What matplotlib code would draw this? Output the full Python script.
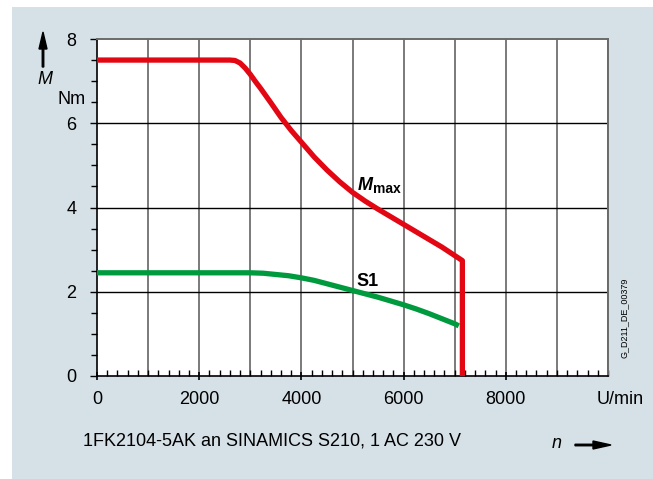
import matplotlib
matplotlib.use("Agg")
import matplotlib.pyplot as plt
from matplotlib.patches import Rectangle, FancyArrow
from matplotlib.ticker import MultipleLocator

plt.rcParams['font.family'] = ['Liberation Sans', 'DejaVu Sans']

# Data (speed in U/min, torque in Nm)
mmax_speed = [0, 2600, 2700, 2800, 2900, 3000, 3100, 3200, 3400, 3600, 3800, 4000, 4250, 4500,
              4750, 5000, 5250, 5500, 5750, 6000, 6250, 6500, 6750, 7000, 7150, 7150]
mmax_torque = [7.5, 7.5, 7.49, 7.43, 7.31, 7.16, 6.99, 6.83, 6.49, 6.14, 5.83, 5.55, 5.2, 4.89,
               4.61, 4.36, 4.15, 3.96, 3.78, 3.6, 3.42, 3.24, 3.06, 2.86, 2.74, 0.0]
s1_speed = [0, 3000, 3250, 3500, 3750, 4000, 4250, 4500, 4750, 5000, 5250, 5500, 5750, 6000,
            6250, 6500, 6750, 7000, 7080]
s1_torque = [2.45, 2.45, 2.44, 2.41, 2.38, 2.33, 2.27, 2.19, 2.11, 2.03, 1.95, 1.87, 1.78, 1.69,
             1.59, 1.48, 1.36, 1.24, 1.19]
x_ticks = [0, 2000, 4000, 6000, 8000]
y_ticks = [0, 2, 4, 6, 8]

W, H = 653, 479
fig = plt.figure(figsize=(W / 100, H / 100), dpi=100)
fig.patch.set_facecolor('white')
bg = '#d5e0e7'
fig.patches.append(Rectangle((12 / W, 0), 1 - 12 / W, (H - 7) / H, transform=fig.transFigure,
                             facecolor=bg, edgecolor='none', zorder=-10))

ax = fig.add_axes([97 / W, (H - 376) / H, (608 - 97) / W, (376 - 39) / H])
ax.set_facecolor('white')
ax.set_xlim(0, 10000)
ax.set_ylim(0, 8)

# grid
for xv in range(1000, 10001, 1000):
    ax.axvline(xv, color='#7a7a7a', lw=1.4, zorder=1)
for yv in [2, 4, 6]:
    ax.axhline(yv, color='black', lw=1.0, zorder=1)

ax.plot(mmax_speed, mmax_torque, color='#e30613', lw=3.8, solid_joinstyle='round',
        solid_capstyle='butt', zorder=3)
ax.plot(s1_speed, s1_torque, color='#009a3e', lw=3.8, solid_joinstyle='round',
        solid_capstyle='butt', zorder=3)

for s in ['top', 'right']:
    ax.spines[s].set_color('#6a6a6a')
    ax.spines[s].set_linewidth(1.4)
for s in ['left', 'bottom']:
    ax.spines[s].set_color('black')
    ax.spines[s].set_linewidth(1.2)

ax.set_xticks(x_ticks)
ax.set_xticklabels([str(v) for v in x_ticks], fontsize=13)
ax.xaxis.set_minor_locator(MultipleLocator(200))
ax.tick_params(axis='x', which='major', direction='inout', length=6, width=1.2, pad=8)
ax.tick_params(axis='x', which='minor', direction='in', length=4, width=1.0)
ax.set_yticks(y_ticks)
ax.set_yticklabels([str(v) for v in y_ticks], fontsize=13)
ax.yaxis.set_minor_locator(MultipleLocator(0.5))
ax.tick_params(axis='y', which='major', direction='out', length=5, width=1.0, pad=10)
ax.tick_params(axis='y', which='minor', direction='out', length=4, width=1.0)

# curve labels
fig.text(365 / W, 1 - 185 / H, 'M', fontsize=13, fontweight='bold', fontstyle='italic',
         ha='center', va='center')
fig.text(373 / W, 1 - 189 / H, 'max', fontsize=10, fontweight='bold', ha='left', va='center')
fig.text(368 / W, 1 - 281 / H, 'S1', fontsize=13, fontweight='bold', ha='center', va='center')

# axis labels
fig.text(620 / W, 1 - 399 / H, 'U/min', fontsize=13, ha='center', va='center')
fig.text(45 / W, 1 - 80 / H, 'M', fontsize=13, fontstyle='italic', ha='center', va='center')
fig.text(72 / W, 1 - 100 / H, 'Nm', fontsize=13, ha='center', va='center')
fig.text(83 / W, 1 - 441 / H, '1FK2104-5AK an SINAMICS S210, 1 AC 230 V', fontsize=13,
         ha='left', va='center')
fig.text(557 / W, 1 - 443 / H, 'n', fontsize=13, fontstyle='italic', ha='center', va='center')
fig.text(624 / W, 1 - 318 / H, 'G_D211_DE_00379', fontsize=6.5, rotation=90,
         ha='center', va='center')

# arrows
fig.patches.append(FancyArrow(43 / W, 1 - 67 / H, 0, 35 / H, width=1.5 / W, head_width=8 / W,
                              head_length=17 / H, length_includes_head=True,
                              transform=fig.transFigure, color='black'))
fig.patches.append(FancyArrow(575 / W, 1 - 445 / H, 36 / W, 0, width=1.5 / H, head_width=8 / H,
                              head_length=18 / W, length_includes_head=True,
                              transform=fig.transFigure, color='black'))

fig.savefig('out.png', dpi=100, facecolor=fig.get_facecolor())
